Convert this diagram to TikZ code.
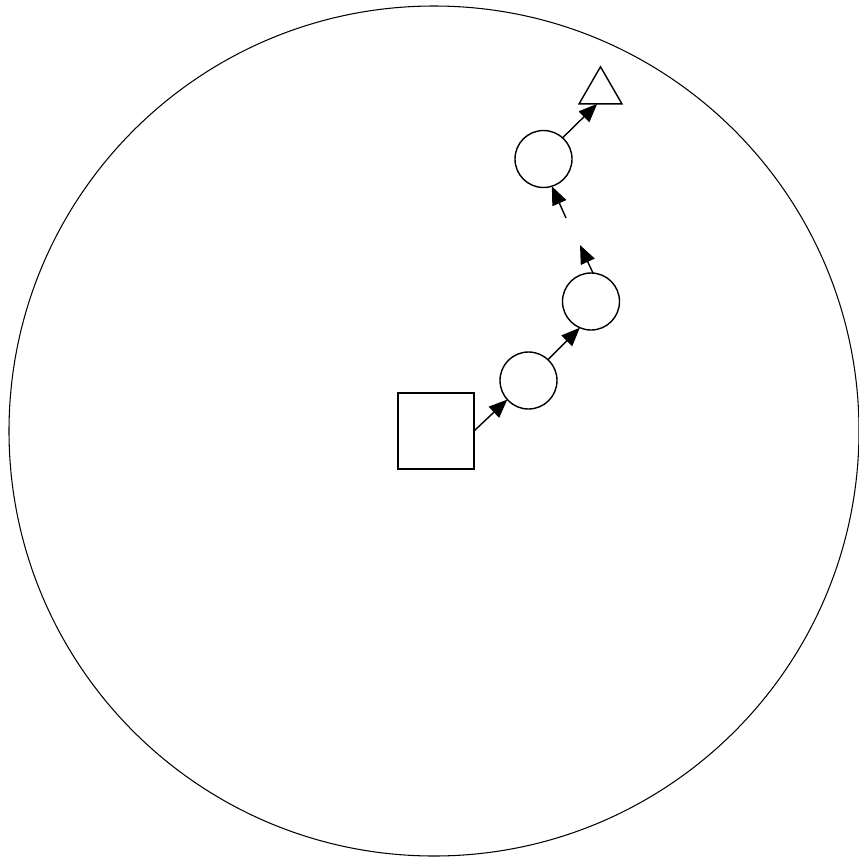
\documentclass[tikz,border=0pt]{standalone}
\usetikzlibrary{arrows.meta,shapes.geometric}

\begin{document}
\begin{tikzpicture}[
        box/.style={draw, rectangle, line width=0.8pt, minimum size=1.52cm, inner sep=0pt, outer sep=0pt}, % start square
        ring/.style={draw, circle, line width=0.8pt, minimum size=1.14cm, inner sep=0pt, outer sep=0pt},
        goal/.style={draw, regular polygon, regular polygon sides=3, line width=0.8pt, minimum size=0.99cm, inner sep=0pt, outer sep=0pt},
        arrow style/.style={-{Triangle[length=0.37cm,width=0.3cm]}, line width=0.8pt} % arrows between the steps
    ]
    \useasboundingbox (0,0) rectangle (17.18,-17.2);

    \node[draw, circle, line width=0.6pt, minimum size=17cm, inner sep=0pt] (field) at (8.68,-8.62) {};

    \node[box] (start) at (8.72,-8.62) {};
    \node[ring] (A) at (10.57,-7.61) {};
    \node[ring] (B) at (11.82,-6.03) {};
    \node[ring] (C) at (10.87,-3.18) {};
    \node[goal] (goal) at (12.01,-1.83) {};

    \coordinate (gapA) at (11.6,-4.9);
    \coordinate (gapB) at (11.32,-4.36);

    \draw[arrow style] (start.east) -- (A.222);
    \draw[arrow style] (A.47) -- (B.247);
    \draw[arrow style] (B.86) -- (gapA);
    \draw[arrow style] (gapB) -- (C.287);
    \draw[arrow style] (C.48) -- (goal.255);
\end{tikzpicture}
\end{document}
